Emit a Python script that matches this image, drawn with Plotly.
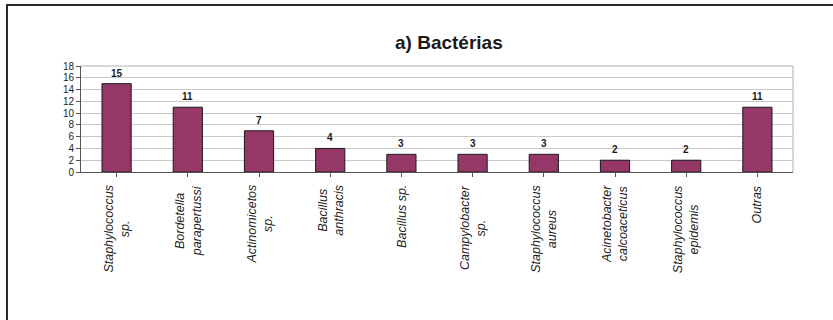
import plotly.graph_objects as go

categories = [
    "Staphylococcus<br>sp.",
    "Bordetella<br>parapertussi",
    "Actinomicetos<br>sp.",
    "Bacillus<br>anthracis",
    "Bacillus sp.",
    "Campylobacter<br>sp.",
    "Staphylococcus<br>aureus",
    "Acinetobacter<br>calcoaceticus",
    "Staphylococcus<br>epidemis",
    "Outras",
]
values = [15, 11, 7, 4, 3, 3, 3, 2, 2, 11]
title_text = "a) Bactérias"
y_ticks = list(range(0, 19, 2))

W, H = 833, 320
ML, MR, MT, MB = 81, 40, 66, 148
plot_w = W - ML - MR
plot_h = H - MT - MB

def px_to_paper_x(px):
    return (px - ML) / plot_w

def px_to_paper_y(py):
    return (H - MB - py) / plot_h

fig = go.Figure()
fig.add_trace(go.Bar(
    x=list(range(len(categories))),
    y=values,
    marker=dict(color="#953868", line=dict(color="#1a1a1a", width=1)),
    cliponaxis=False,
    hoverinfo="skip",
))

for i, v in enumerate(values):
    fig.add_annotation(
        x=i, xref="x", y=v, yref="y",
        text=f"<b>{v}</b>", showarrow=False,
        xanchor="center", yanchor="bottom", yshift=3,
        font=dict(family="Liberation Sans, Arial", size=10, color="#1a1a1a"),
    )

for i, c in enumerate(categories):
    fig.add_annotation(
        x=i, xref="x",
        y=px_to_paper_y(183), yref="paper",
        text=c, textangle=-90, showarrow=False,
        xanchor="center", yanchor="top", align="center",
        font=dict(family="Liberation Sans, Arial", size=12.5, color="#222222", style="italic"),
    )

fig.add_annotation(
    x=px_to_paper_x(449), xref="paper", y=px_to_paper_y(43), yref="paper",
    text=f"<b>{title_text}</b>", showarrow=False, xanchor="center", yanchor="middle",
    font=dict(family="Liberation Sans, Arial", size=19, color="#1a1a1a"),
)

# outer frame (left and top edges)
x0 = px_to_paper_x(7)
x1 = px_to_paper_x(834)
y_top = px_to_paper_y(5)
y_bot = px_to_paper_y(321)
fig.add_shape(type="path", xref="paper", yref="paper",
              path=f"M {x0} {y_bot} L {x0} {y_top} L {x1} {y_top}",
              line=dict(color="#2a2a2a", width=2))

fig.update_layout(
    width=W, height=H,
    margin=dict(l=ML, r=MR, t=MT, b=MB, pad=0),
    paper_bgcolor="white", plot_bgcolor="white",
    showlegend=False,
    bargap=0.59,
    font=dict(family="Liberation Sans, Arial", color="#222222"),
)
fig.update_xaxes(
    range=[-0.5, len(categories) - 0.5],
    tickmode="array", tickvals=list(range(len(categories))),
    ticktext=[""] * len(categories),
    tickson="boundaries", ticks="outside", ticklen=4, tickcolor="#555555", tickwidth=1,
    showline=True, linecolor="#555555", linewidth=1, mirror=False,
    showgrid=False, zeroline=False, fixedrange=True,
)
fig.update_yaxes(
    range=[0, 18], tickvals=y_ticks,
    ticks="outside", ticklen=4, tickcolor="#555555",
    tickfont=dict(size=10, color="#222222"),
    showline=True, linecolor="#555555", linewidth=1,
    showgrid=True, gridcolor="#c8c8c8", gridwidth=1,
    zeroline=False, fixedrange=True,
)
# light plot-area border top/right
fig.add_shape(type="path", xref="paper", yref="paper",
              path="M 0 1 L 1 1 L 1 0", line=dict(color="#b0b0b0", width=1))

fig.write_html("out.html")
